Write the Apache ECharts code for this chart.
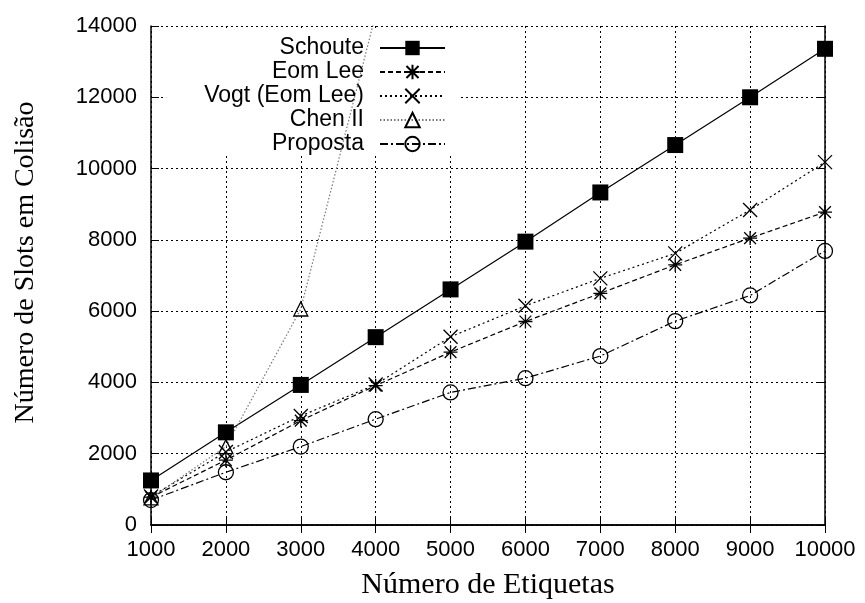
<!DOCTYPE html>
<html>
<head>
<meta charset="utf-8">
<script src="https://cdn.jsdelivr.net/npm/echarts@6/dist/echarts.min.js"></script>
<style>
  html, body { margin: 0; padding: 0; background: #fff; }
  #main { width: 865px; height: 603px; }
</style>
</head>
<body>
<div id="main"></div>
<script>
// dados
var etiquetas = [1000, 2000, 3000, 4000, 5000, 6000, 7000, 8000, 9000, 10000];
var schoute   = [1250, 2600, 3930, 5270, 6610, 7950, 9330, 10660, 12000, 13360];
var eomLee    = [780, 1820, 2930, 3910, 4850, 5710, 6500, 7300, 8050, 8780];
var vogt      = [800, 2050, 3060, 3940, 5280, 6150, 6920, 7620, 8840, 10180];
var chenII    = [760, 2200, 6060, 14330, null, null, null, null, null, null];
var proposta  = [700, 1480, 2200, 2970, 3720, 4120, 4740, 5720, 6440, 7690];

var SANS = '"Liberation Sans", Arial, Helvetica, sans-serif';
var SERIF = '"Liberation Serif", "Times New Roman", serif';

var ASTERISCO = 'path://M0 5 L10 5 M5 0 L5 10 M0.8 0.8 L9.2 9.2 M9.2 0.8 L0.8 9.2';
var XIS = 'path://M0 0 L10 10 M10 0 L0 10';

function pares(valores) {
	return etiquetas.map(function(x, i) {
		return [x, valores[i]];
	});
}

function semMilhar(v) {
	return String(v);
}

function serie(nome, valores, simbolo, tamanho, tipoLinha, cor, preenchido) {
	return {
		name : nome,
		type : 'line',
		xAxisIndex : 0,
		yAxisIndex : 0,
		z : 3,
		data : pares(valores),
		symbol : simbolo,
		symbolSize : tamanho,
		showAllSymbol : true,
		connectNulls : false,
		clip : true,
		animation : false,
		lineStyle : {
			color : cor,
			width : 1.2,
			type : tipoLinha
		},
		itemStyle : {
			color : preenchido ? '#000' : 'rgba(0,0,0,0)',
			borderColor : '#000',
			borderWidth : preenchido ? 0 : 1.3
		}
	};
}

var chart = echarts.init(document.getElementById('main'), null, { renderer : 'canvas' });

var eixoTick = { inside : true, length : 8, lineStyle : { color : '#000', width : 1 } };
var eixoLinha = { show : true, lineStyle : { color : '#000', width : 1.5 } };
var grade = { show : true, lineStyle : { color : '#000', width : 1, type : [2, 3] } };

var option = {
	backgroundColor : '#fff',
	animation : false,
	grid : {
		left : 151,
		right : 40,
		top : 26,
		bottom : 78,
		containLabel : false,
		outerBoundsMode : 'none'
	},
	legend : {
		orient : 'vertical',
		align : 'right',
		right : 405,
		top : 30,
		z : 1,
		backgroundColor : '#fff',
		padding : [6, 14, 0, 38],
		itemGap : 0,
		itemWidth : 65,
		itemHeight : 18,
		textStyle : {
			fontFamily : SANS,
			fontSize : 23,
			lineHeight : 24,
			color : '#000',
			padding : [0, 11, 0, 0]
		},
		data : [ 'Schoute', 'Eom Lee', 'Vogt (Eom Lee)', 'Chen II', 'Proposta' ]
	},
	xAxis : [ {
		type : 'value',
		position : 'bottom',
		min : 1000,
		max : 10000,
		interval : 1000,
		name : 'Número de Etiquetas',
		nameLocation : 'middle',
		nameGap : 45,
		nameTextStyle : { fontFamily : SERIF, fontSize : 30, color : '#000' },
		axisLine : eixoLinha,
		axisTick : eixoTick,
		axisLabel : { fontFamily : SANS, fontSize : 22, color : '#000', margin : 14, formatter : semMilhar },
		splitLine : grade
	}, {
		type : 'value',
		position : 'top',
		min : 1000,
		max : 10000,
		interval : 1000,
		axisLine : eixoLinha,
		axisTick : eixoTick,
		axisLabel : { show : false },
		splitLine : { show : false }
	} ],
	yAxis : [ {
		type : 'value',
		position : 'left',
		min : 0,
		max : 14000,
		interval : 2000,
		name : 'Número de Slots em Colisão',
		nameLocation : 'middle',
		nameGap : 111,
		nameTextStyle : { fontFamily : SERIF, fontSize : 28, color : '#000', padding : [0, 0, 0, 26] },
		axisLine : eixoLinha,
		axisTick : eixoTick,
		axisLabel : { fontFamily : SANS, fontSize : 22, color : '#000', margin : 14, formatter : semMilhar },
		splitLine : grade
	}, {
		type : 'value',
		position : 'right',
		min : 0,
		max : 14000,
		interval : 2000,
		axisLine : eixoLinha,
		axisTick : eixoTick,
		axisLabel : { show : false },
		splitLine : { show : false }
	} ],
	series : [
		serie('Schoute', schoute, 'rect', 16, 'solid', '#000', true),
		serie('Eom Lee', eomLee, ASTERISCO, 14, [5, 3], '#000', false),
		serie('Vogt (Eom Lee)', vogt, XIS, 14, [2, 3], '#000', false),
		serie('Chen II', chenII, 'triangle', 14, [1.5, 2], '#777', false),
		serie('Proposta', proposta, 'circle', 15, [8, 3, 2, 3], '#000', false)
	]
};

chart.setOption(option);
</script>
</body>
</html>
